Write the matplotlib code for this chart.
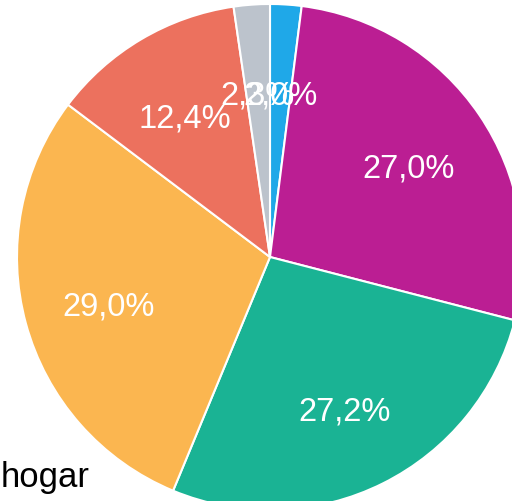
import matplotlib
matplotlib.use("Agg")
import matplotlib.pyplot as plt

# Slice data (clockwise from 12 o'clock)
shares = [2.0, 27.0, 27.2, 29.0, 12.4, 2.3]
colors = ["#1fa8e8", "#bb1e93", "#1ab394", "#fbb650", "#ec715e", "#bcc3cc"]
legend_label = "hogar"

plt.rcParams['font.family'] = ['Liberation Sans', 'DejaVu Sans']

fig = plt.figure(figsize=(5.12, 5.02), dpi=100)
ax = fig.add_axes([0, 0, 1, 1])

total = sum(shares)

def fmt(pct):
    return f"{pct * total / 100:.1f}".replace('.', ',') + '%'

wedges, texts, autotexts = ax.pie(
    shares, colors=colors, startangle=90, counterclock=False,
    center=(270, 244), radius=253, autopct=fmt, pctdistance=0.66,
    wedgeprops=dict(edgecolor='white', linewidth=1.5),
    textprops=dict(color='white', fontsize=23.5),
)

# labels sit a little lower than the geometric centre
for t in autotexts:
    x, y = t.get_position()
    t.set_position((x, y - 5))

ax.set_xlim(0, 512)
ax.set_ylim(0, 502)
ax.set_aspect('equal')
ax.axis('off')

ax.text(1, 15, legend_label, fontsize=25, color='black', ha='left', va='baseline')

fig.savefig("out.png", dpi=100)
